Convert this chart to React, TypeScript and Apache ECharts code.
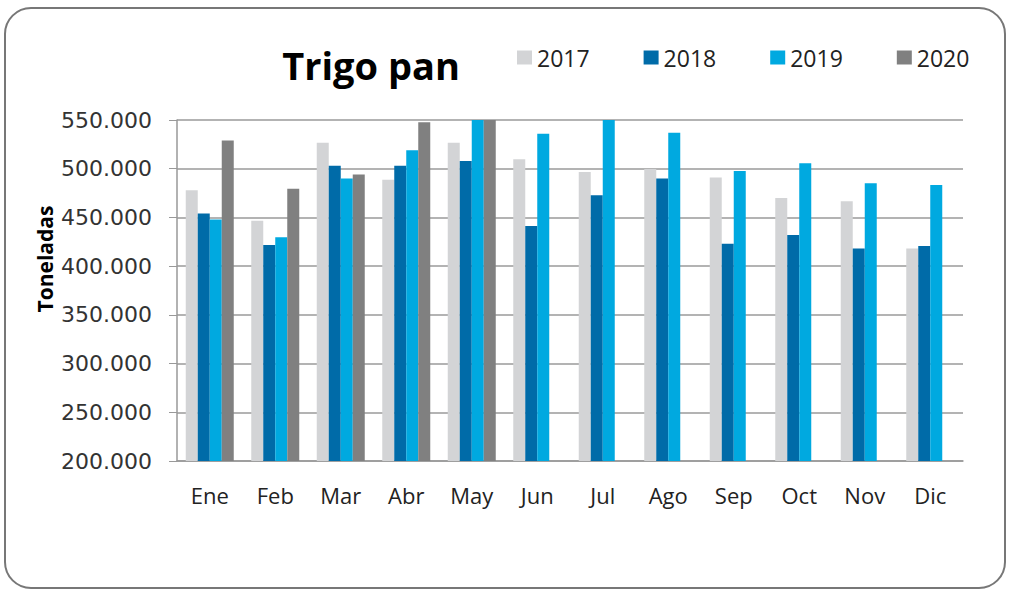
import React, { useEffect, useRef } from "react";
import * as echarts from "echarts";

const months = ["Ene", "Feb", "Mar", "Abr", "May", "Jun", "Jul", "Ago", "Sep", "Oct", "Nov", "Dic"];
const years = ["2017", "2018", "2019", "2020"];
const s2017 = [478000, 446700, 526700, 488700, 526700, 509600, 496600, 499700, 491000, 470000, 466500, 418000];
const s2018 = [454000, 421700, 503000, 503000, 508000, 441200, 472700, 490000, 423000, 432000, 418000, 420700];
const s2019 = [448000, 429600, 490000, 519000, 565000, 536000, 560000, 537000, 497700, 505500, 485000, 483300];
const s2020 = [529000, 479500, 494000, 547600, 560000, null, null, null, null, null, null, null];
const yTicks = [200000, 550000, 50000];
const colors = ["#D3D4D6", "#006BA8", "#00A9E0", "#808080"];

const fmt = (v: number) => {
  const s = Math.round(v).toString();
  return s.replace(/\B(?=(\d{3})+(?!\d))/g, ".");
};

export default function App() {
  const ref = useRef<HTMLDivElement>(null);
  useEffect(() => {
    if (!ref.current) return;
    const chart = echarts.init(ref.current, null, { renderer: "svg" });
    const data = [s2017, s2018, s2019, s2020];
    chart.setOption({
      animation: false,
      backgroundColor: "#ffffff",
      graphic: [
        {
          type: "rect",
          shape: { x: 5, y: 8, width: 1000, height: 580, r: 26 },
          style: { fill: "none", stroke: "#777777", lineWidth: 2 },
          z: -1,
        },
        {
          type: "text",
          x: 45,
          y: 259,
          rotation: Math.PI / 2,
          style: {
            text: "Toneladas",
            fontFamily: "Open Sans",
            fontWeight: "bold",
            fontSize: 21,
            fill: "#000",
            align: "center",
            verticalAlign: "middle",
          },
        },
      ],
      title: {
        text: "Trigo pan",
        left: 366,
        top: 41,
        textAlign: "center",
        textStyle: { fontFamily: "Open Sans", fontWeight: "bold", fontSize: 38, color: "#000" },
      },
      legend: {
        data: years,
        left: 512,
        top: 41,
        itemWidth: 15,
        itemHeight: 14,
        itemGap: 54,
        icon: "rect",
        textStyle: { fontFamily: "Open Sans", fontSize: 23, color: "#222" },
      },
      grid: { left: 177, right: 48, top: 120, bottom: 130, containLabel: false },
      xAxis: {
        type: "category",
        data: months,
        axisLine: { lineStyle: { color: "#999", width: 1.5 } },
        axisTick: { show: false },
        axisLabel: { fontFamily: "Open Sans", fontSize: 22, color: "#222", margin: 23 },
      },
      yAxis: {
        type: "value",
        min: yTicks[0],
        max: yTicks[1],
        interval: yTicks[2],
        axisLine: { show: true, lineStyle: { color: "#999", width: 1.5 } },
        axisTick: { show: true, inside: false, length: 8, lineStyle: { color: "#999" } },
        splitLine: { lineStyle: { color: "#9a9a9a", width: 1.5 } },
        axisLabel: {
          fontFamily: "DejaVu Sans",
          fontSize: 22,
          color: "#333",
          margin: 25,
          formatter: (v: number) => fmt(v),
        },
      },
      series: years.map((y, i) => ({
        name: y,
        type: "bar",
        data: data[i],
        barWidth: 12,
        barGap: "0%",
        clip: true,
        itemStyle: { color: colors[i] },
      })),
    });
    return () => chart.dispose();
  }, []);
  return (
    <div
      ref={ref}
      style={{ position: "fixed", left: 0, top: 0, width: 1011, height: 591 }}
    />
  );
}
